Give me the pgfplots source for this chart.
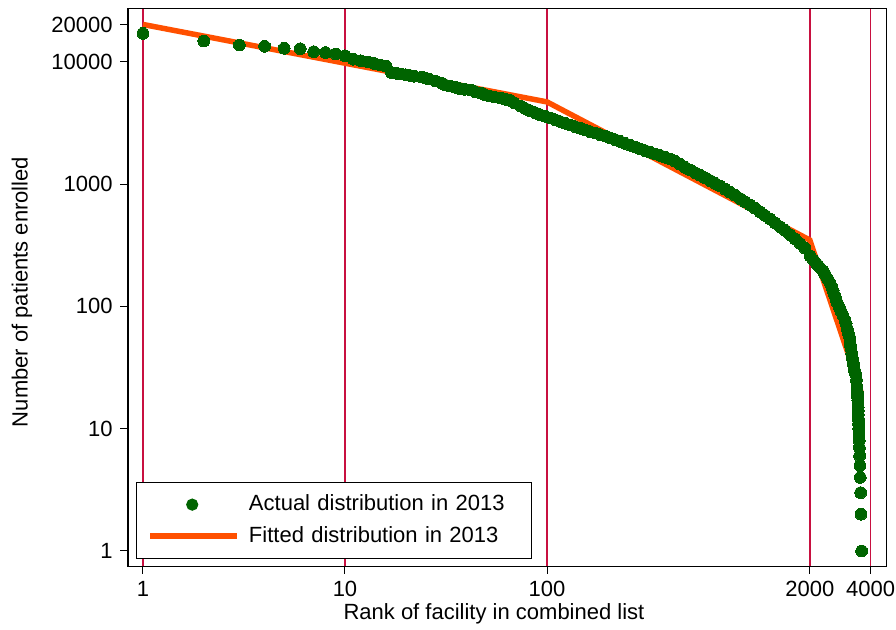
\documentclass[border=0pt]{standalone}
\usepackage{pgfplots}
\pgfplotsset{compat=1.18}
\usepackage{fontspec}
\setmainfont{Liberation Sans}
\definecolor{dotgreen}{RGB}{0,100,0}
\definecolor{fitorange}{RGB}{255,80,0}
\definecolor{vline}{RGB}{200,16,64}

% rank of facility, patients enrolled
\pgfplotstableread{
rank value
1 17100
2 14800
3 13700
4 13400
5 12900
6 12800
7 12100
8 11900
9 11600
10 11200
11 10500
12 10190
13 9960
14 9670
15 9400
16 9190
17 8160
18 8054
19 7947
20 7830
21 7727
22 7619
24 7512
25 7372
26 7235
28 6966
30 6709
31 6522
33 6340
35 6193
37 6049
39 5965
42 5881
44 5717
47 5558
49 5403
52 5252
55 5154
59 5058
62 4941
66 4826
69 4604
74 4351
78 4151
82 3998
87 3850
92 3708
98 3584
104 3472
110 3356
116 3250
123 3148
130 3043
138 2953
146 2860
154 2775
163 2692
173 2617
183 2539
194 2469
205 2391
217 2312
230 2235
243 2156
258 2080
273 2007
289 1936
306 1879
324 1823
343 1766
363 1714
384 1657
406 1605
430 1539
456 1454
482 1372
511 1304
540 1242
572 1182
606 1126
641 1070
679 1015
719 965
761 910
805 859
853 810
903 762
956 717
1012 675
1071 635
1134 593
1200 554
1271 518
1345 483
1424 449
1508 418
1596 387
1690 356
1789 327
1894 299
2005 258
2082 240
2164 222
2241 208
2325 195
2384 182
2447 169
2506 157
2567 145
2608 134
2650 124
2693 115
2736 107
2793 99
2854 91
2920 84
2987 77
3025 72
3063 66
3098 61
3137 57
3159 52
3180 48
3202 45
3224 41
3246 38
3272 35
3299 33
3329 30
3367 28
3405 25
3425 22
3435 20
3444 19
3450 18
3457 17
3464 16
3470 15
3472 14
3476 13
3482 12
3488 11
3496 10
3504 9
3512 8
3520 7
3528 6
3542 5
3554 4
3570 3
3583 2
3613 1
}\actualdata

\begin{document}
\fontsize{22}{26}\selectfont
\begin{tikzpicture}
\begin{axis}[
    at={(128pt,63pt)}, anchor=south west,
    scale only axis, width=758pt, height=557pt,
    xmode=log, ymode=log,
    xmin=0.843, xmax=4767, ymin=0.754, ymax=27030,
    xtick={1,10,100,2000,4000},
    xticklabels={1,10,100,2000,4000},
    ytick={1,10,100,1000,10000,20000},
    yticklabels={1,10,100,1000,10000,20000},
    minor xtick={}, minor ytick={},
    tick pos=left, tick align=outside,
    major tick length=8pt,
    tick style={black, line width=1pt},
    axis line style={line width=1pt},
    xmajorgrids,
    major grid style={vline, line width=1.6pt},
    /pgf/number format/assume math mode=true,
    every axis x label/.style={at={(axis description cs:0.4828,-0.0862)}, anchor=center},
    every axis y label/.style={at={(axis description cs:-0.1398,0.492)}, rotate=90, anchor=center},
    xlabel={Rank of facility in combined list},
    ylabel={Number of patients enrolled},
    legend cell align=left,
    legend style={at={(axis description cs:0.01055,0.01257)}, anchor=south west,
        draw=black, line width=1pt, inner xsep=11pt, inner ysep=13pt,
        row sep=12pt, nodes={inner sep=0pt},
        /tikz/every odd column/.append style={column sep=9pt},
        /tikz/every even column/.append style={text width=272pt}},
]
\addplot[dotgreen, only marks, mark=*, mark size=5.9pt,
    mark options={draw=dotgreen, fill=dotgreen, line width=0pt},
    legend image code/.code={\path[draw=none, fill=none] (0pt,0pt) -- (87pt,0pt);
        \fill[dotgreen] (42pt,0pt) circle (5.6pt);}]
    table[x=rank, y=value] {\actualdata};
\addlegendentry{Actual distribution in 2013}
\addplot[fitorange, line width=5.5pt,
    legend image code/.code={\draw[fitorange, line width=5.5pt] (0pt,0pt) -- (87pt,0pt);}]
    coordinates {(1,20200) (100,4700) (2000,349) (3600,19.5)};
\addlegendentry{Fitted distribution in 2013}
\end{axis}
\pgfresetboundingbox
\path[use as bounding box] (0pt,0pt) rectangle (896pt,629pt);
\end{tikzpicture}
\end{document}
